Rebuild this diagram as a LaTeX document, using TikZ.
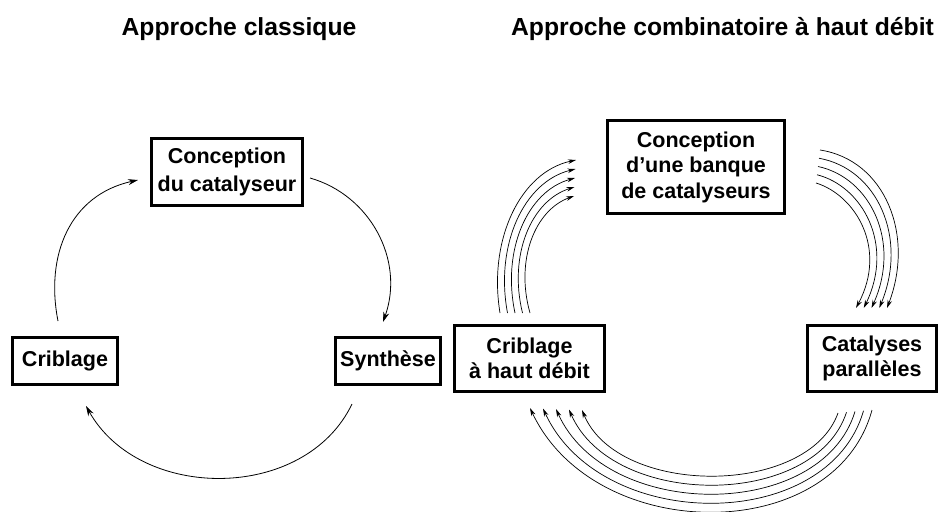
\documentclass[tikz,border=0pt]{standalone}
\usepackage{fontspec}
\setmainfont{Liberation Sans}
\usetikzlibrary{arrows.meta,calc}
\begin{document}
\begin{tikzpicture}[x=1pt,y=-1pt,
  box/.style={draw,line width=3pt,align=center,inner sep=0pt,font=\bfseries\fontsize{21.5}{25.5}\selectfont},
  ttl/.style={font=\bfseries\fontsize{24.7}{30}\selectfont,anchor=base},
  conn/.style={line width=0.8pt,-{Stealth[length=10pt,width=6pt]}},
  bund/.style={line width=0.7pt,-{Stealth[length=8pt,width=4.5pt]}}]
\useasboundingbox (0,0) rectangle (939,511);

% titles
\node[ttl] (t1) at (239,36) {Approche classique};
\node[ttl] (t2) at (722.5,36) {Approche combinatoire à haut débit};

% left diagram
\node[box,minimum width=151pt,minimum height=67pt,font=\bfseries\fontsize{21.5}{28}\selectfont] (c1) at (227,172) {Conception\\du catalyseur};
\node[box,minimum width=105pt,minimum height=47pt] (cr1) at (65,361) {Criblage};
\node[box,minimum width=105pt,minimum height=47pt] (sy) at (388,361) {Synthèse};

\coordinate (a1s) at (58,321); \coordinate (a1e) at (138,180);
\draw[conn] (a1s) .. controls (45,255) and (70,195) .. (a1e);
\coordinate (a2s) at (310,178); \coordinate (a2e) at (383,322);
\draw[conn] (a2s) .. controls (370,195) and (405,260) .. (a2e);
\coordinate (a3s) at (352,404); \coordinate (a3e) at (86,406);
\draw[conn] (a3s) .. controls (305,502) and (140,502) .. (a3e);

% right diagram
\node[box,minimum width=177pt,minimum height=93pt] (c2) at (696,167) {Conception\\d’une banque\\de catalyseurs};
\node[box,minimum width=150pt,minimum height=66pt] (cr2) at (529.5,358.5) {Criblage\\à haut débit};
\node[box,minimum width=129pt,minimum height=66pt] (ca) at (872,358.5) {Catalyses\\parallèles};

% bundle 1: criblage -> conception
\coordinate (b1p0o) at (500,313); \coordinate (b1c1o) at (488,240); \coordinate (b1c2o) at (520,172); \coordinate (b1p3o) at (576,160);
\coordinate (b1p0i) at (530,313); \coordinate (b1c1i) at (515,260); \coordinate (b1c2i) at (535,210); \coordinate (b1p3i) at (574,196);
% bundle 2: conception -> catalyses
\coordinate (b2p0o) at (820,150); \coordinate (b2c1o) at (885,160); \coordinate (b2c2o) at (915,235); \coordinate (b2p3o) at (887,308);
\coordinate (b2p0i) at (816,183); \coordinate (b2c1i) at (855,195); \coordinate (b2c2i) at (888,248); \coordinate (b2p3i) at (856,308);
% bundle 3: catalyses -> criblage
\coordinate (b3p0o) at (872,410); \coordinate (b3c1o) at (835,546); \coordinate (b3c2o) at (595,546); \coordinate (b3p3o) at (530,408);
\coordinate (b3p0i) at (838,413); \coordinate (b3c1i) at (808,497); \coordinate (b3c2i) at (618,497); \coordinate (b3p3i) at (582,410);

\foreach \b in {1,2,3}{
  \foreach \i in {0,...,4}{
    \pgfmathsetmacro\tt{\i/4}
    \draw[bund] ($(b\b p0o)!\tt!(b\b p0i)$) .. controls ($(b\b c1o)!\tt!(b\b c1i)$) and ($(b\b c2o)!\tt!(b\b c2i)$) .. ($(b\b p3o)!\tt!(b\b p3i)$);
  }
}
\end{tikzpicture}
\end{document}
